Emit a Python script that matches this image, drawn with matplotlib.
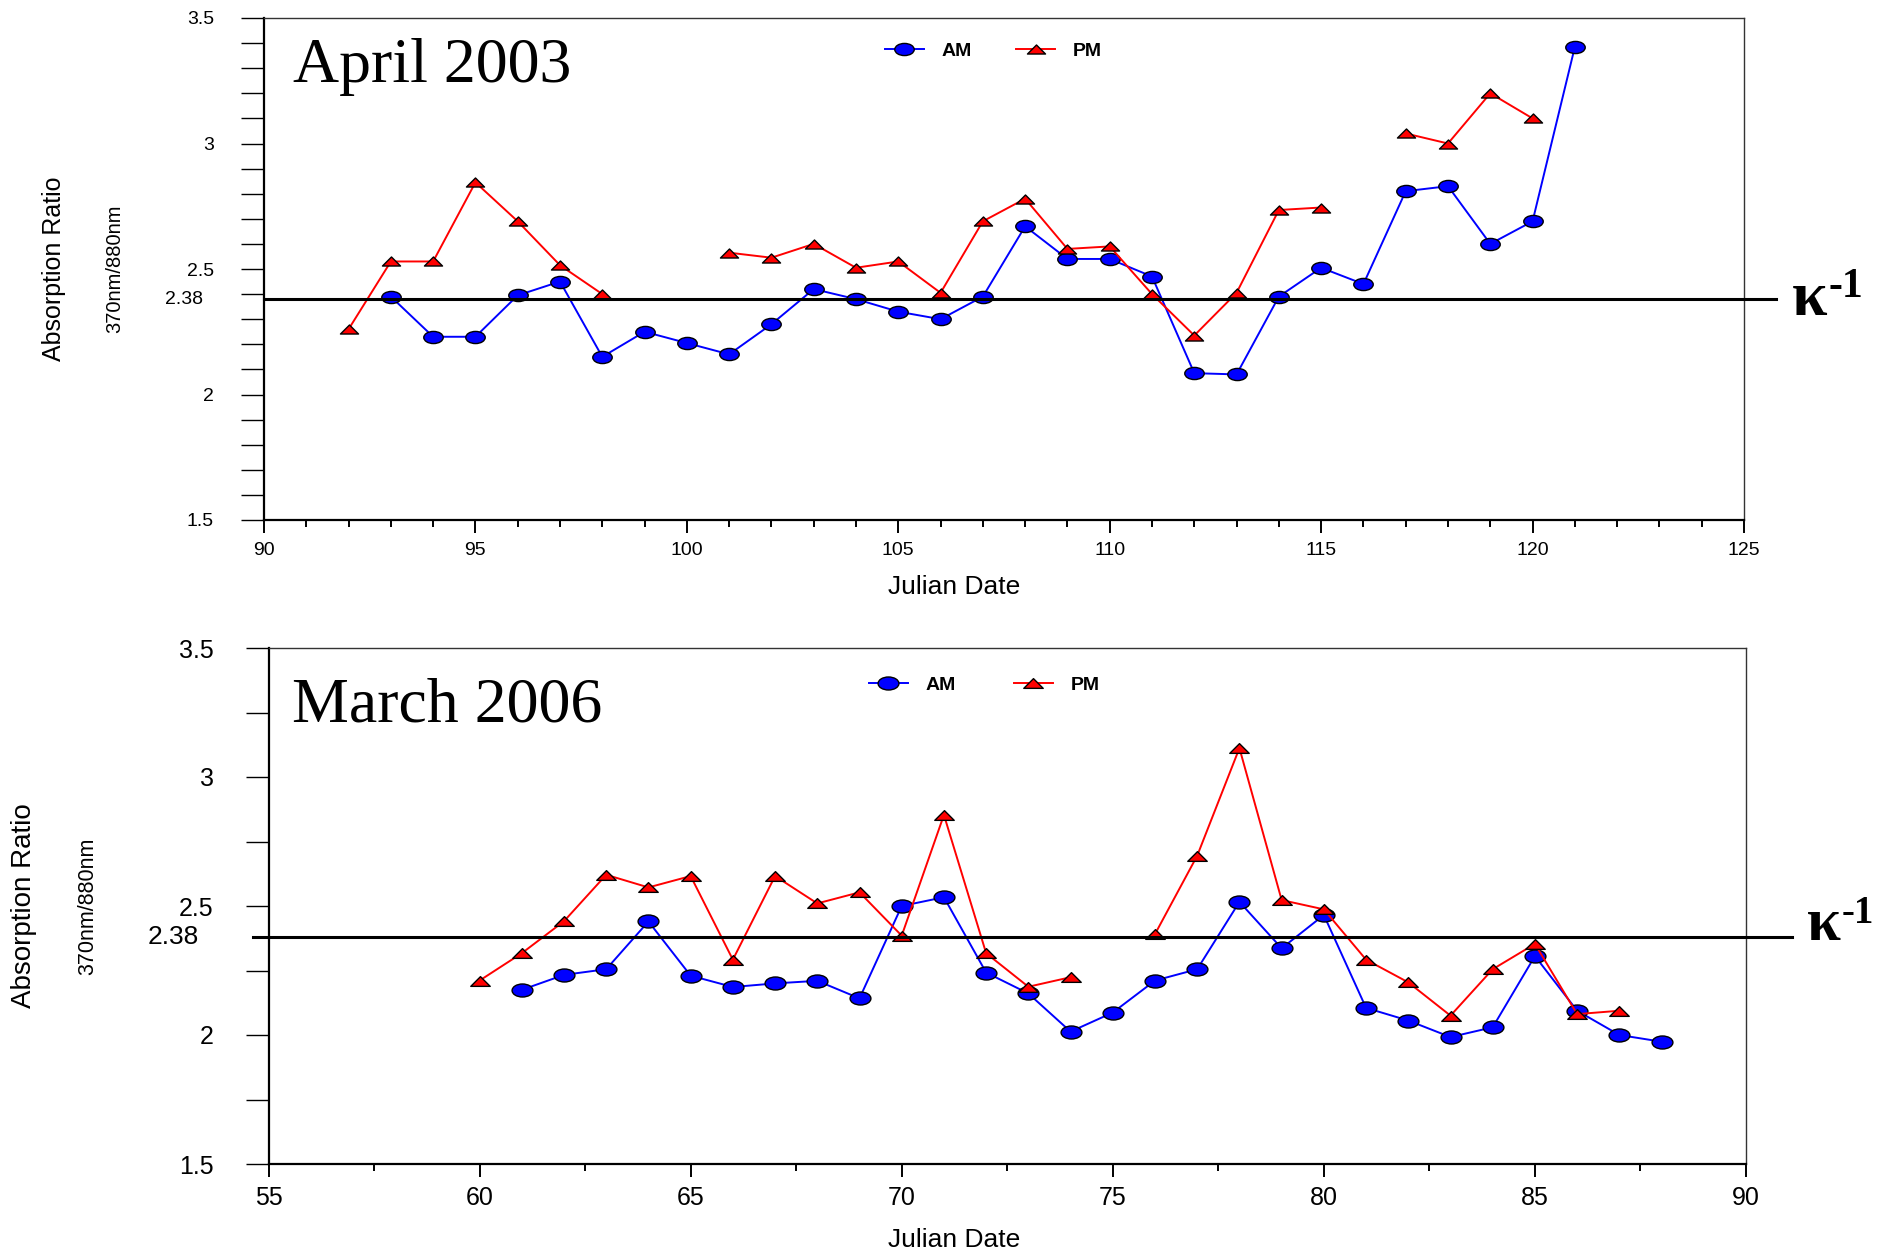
import numpy as np
import matplotlib
matplotlib.use('Agg')
import matplotlib.pyplot as plt
from matplotlib.path import Path
from matplotlib.transforms import Affine2D, blended_transform_factory
from matplotlib.ticker import MultipleLocator

nan = np.nan

# ---------------- data ----------------
# April 2003 (Julian days 92..121)
days_2003 = list(range(92, 122))
am_2003 = [nan, 2.39, 2.23, 2.23, 2.395, 2.45, 2.15, 2.25, 2.205, 2.16,
           2.28, 2.42, 2.38, 2.33, 2.30, 2.39, 2.67, 2.54, 2.54, 2.47,
           2.085, 2.08, 2.39, 2.505, 2.44, 2.81, 2.83, 2.60, 2.69, 3.385]
pm_2003 = [2.26, 2.53, 2.53, 2.845, 2.69, 2.515, 2.40, nan, nan, 2.565,
           2.545, 2.60, 2.505, 2.53, 2.405, 2.69, 2.78, 2.58, 2.59, 2.40,
           2.235, 2.405, 2.735, 2.745, nan, 3.04, 3.00, 3.20, 3.10, nan]

# March 2006 (Julian days 60..88)
days_2006 = list(range(60, 89))
am_2006 = [nan, 2.175, 2.233, 2.255, 2.44, 2.23, 2.186, 2.20, 2.21, 2.142,
           2.50, 2.534, 2.242, 2.161, 2.013, 2.087, 2.211, 2.255, 2.516, 2.336,
           2.465, 2.105, 2.056, 1.992, 2.03, 2.306, 2.094, 2.00, 1.974]
pm_2006 = [2.211, 2.317, 2.441, 2.621, 2.572, 2.616, 2.292, 2.616, 2.51, 2.553,
           2.385, 2.853, 2.317, 2.187, 2.224, nan, 2.391, 2.695, 3.112, 2.523,
           2.487, 2.292, 2.204, 2.075, 2.255, 2.353, 2.081, 2.094, nan]

kappa_value = 2.38
series_labels = ["AM", "PM"]
panel_titles = ["April 2003", "March 2006"]
x_label = "Julian Date"
y_label = "Absorption Ratio"
y_sublabel = "370nm/880nm"

# ---------------- style ----------------
W, H = 1893, 1256
fig = plt.figure(figsize=(W / 100, H / 100), dpi=100)

SANS = ['Liberation Sans', 'DejaVu Sans']
SERIF = ['Liberation Serif', 'DejaVu Serif']
NARROW = ['Liberation Sans Narrow', 'Liberation Sans', 'DejaVu Sans']

ellipse = Path.unit_circle().transformed(Affine2D().scale(1.6, 1.0))
flat_tri = Path([(0, 0.5), (-1, -0.5), (1, -0.5), (0, 0.5)],
                [Path.MOVETO, Path.LINETO, Path.LINETO, Path.CLOSEPOLY])


def fx(px):
    return px / W


def fy(py):
    return 1 - py / H


def panel(rect, days, am, pm, xlim, xminor, yminor, ticksize, ypad, ms,
          kappa_x, title, title_pos, ylab_x, ysub_x, ylab_size, ysub_size,
          label_y, leg_anchor, leg_colsp, kappa_lbl_off, kappa_lbl_size,
          kap_text):
    ax = fig.add_axes(rect)
    ax.plot(days, am, color='#0000ff', lw=1.4, marker=ellipse, ms=ms,
            mfc='#0000ff', mec='black', mew=1.0, label=series_labels[0], zorder=3)
    ax.plot(days, pm, color='#ff0000', lw=1.4, marker=flat_tri, ms=ms - 1,
            mfc='#ff0000', mec='black', mew=1.0, label=series_labels[1], zorder=3)
    ax.set_xlim(*xlim)
    ax.set_ylim(1.5, 3.5)
    ax.xaxis.set_major_locator(MultipleLocator(5))
    ax.xaxis.set_minor_locator(MultipleLocator(xminor))
    ax.yaxis.set_major_locator(MultipleLocator(0.5))
    ax.yaxis.set_minor_locator(MultipleLocator(yminor))
    ax.yaxis.set_major_formatter(plt.FuncFormatter(lambda v, p: f"{v:g}"))
    ax.tick_params(axis='y', which='both', direction='out', length=16.5,
                   width=1.0, pad=ypad, labelsize=ticksize)
    ax.tick_params(axis='x', which='major', direction='out', length=9,
                   width=1.4, pad=7, labelsize=ticksize)
    ax.tick_params(axis='x', which='minor', direction='out', length=5, width=1.4)
    for lab in ax.get_xticklabels() + ax.get_yticklabels():
        lab.set_family(SANS)
    for s in ['left', 'bottom']:
        ax.spines[s].set_linewidth(1.6)
        ax.spines[s].set_color('black')
    for s in ['top', 'right']:
        ax.spines[s].set_linewidth(1.0)
        ax.spines[s].set_color('#333333')

    # kappa reference line
    tr = blended_transform_factory(ax.transAxes, ax.transData)
    ax.plot(kappa_x, [kappa_value, kappa_value], color='black', lw=2.2,
            transform=tr, clip_on=False, zorder=4)
    ax.annotate(f"{kappa_value:g}", xy=(0, kappa_value),
                xycoords=('axes fraction', 'data'),
                xytext=(kappa_lbl_off, 0), textcoords='offset points',
                ha='right', va='center', fontsize=kappa_lbl_size, family=SANS)

    # kappa symbol
    (kx, kby, kpt), (sx, sby, spt) = kap_text
    fig.text(fx(kx), fy(kby), "\u03ba", fontsize=kpt, fontweight='bold',
             family=SERIF, ha='left', va='baseline')
    fig.text(fx(sx), fy(sby), "-1", fontsize=spt, fontweight='bold',
             family=SERIF, ha='left', va='baseline')

    # panel title
    fig.text(fx(title_pos[0]), fy(title_pos[1]), title, fontsize=46,
             family=SERIF, ha='left', va='baseline')

    # axis labels
    fig.text(fx(954), fy(label_y), x_label, fontsize=19, family=SANS,
             ha='center', va='center')
    cy = rect[1] + rect[3] / 2
    fig.text(fx(ylab_x), cy, y_label, fontsize=ylab_size, family=SANS,
             rotation=90, ha='center', va='center')
    fig.text(fx(ysub_x), cy, y_sublabel, fontsize=ysub_size, family=SANS,
             rotation=90, ha='center', va='center')

    ax.legend(loc='center left', bbox_to_anchor=leg_anchor,
              bbox_transform=fig.transFigure, ncol=2, frameon=False,
              borderpad=0, borderaxespad=0, handlelength=2.0,
              handletextpad=0.9, columnspacing=leg_colsp,
              prop={'family': NARROW, 'weight': 'bold', 'size': 14})
    return ax


# top panel: April 2003
top_rect = [fx(264), fy(520), (1744 - 264) / W, (520 - 18) / H]
panel(top_rect, days_2003, am_2003, pm_2003, (90, 125), 1, 0.1, 14, 19.5, 14,
      [0, (1776 - 264) / 1480], panel_titles[0], (293, 82), 54, 115, 18, 14.5,
      587, (fx(885), fy(51)), 2.3, -44, 14,
      ((1792, 315, 46), (1828, 297, 30)))

# bottom panel: March 2006
bot_rect = [fx(268.5), fy(1164), (1746 - 268.5) / W, (1164 - 648) / H]
panel(bot_rect, days_2006, am_2006, pm_2006, (55, 90), 2.5, 0.25, 18, 23, 15,
      [-0.0105, (1792 - 268.5) / 1477.5], panel_titles[1], (292, 721), 24, 88, 20, 15.5,
      1240, (fx(869), fy(685)), 3.0, -50, 19,
      ((1807, 940, 44), (1842, 923, 28)))

fig.savefig('out.png', dpi=100)
